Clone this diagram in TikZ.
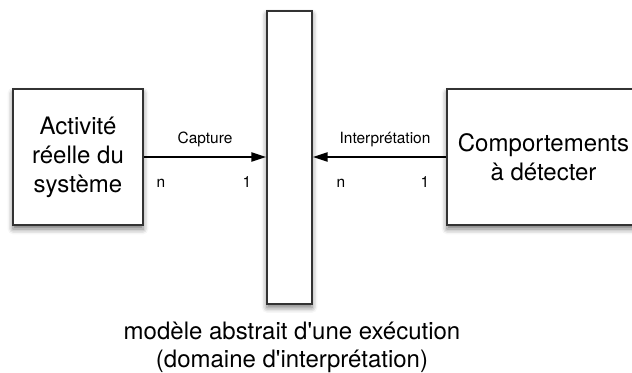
\documentclass[tikz,border=0pt]{standalone}
\usepackage{fontspec}
\setmainfont{TeX Gyre Heros}
\usetikzlibrary{arrows.meta,shadows.blur}
\begin{document}
\begin{tikzpicture}[x=0.75pt,y=-0.75pt,
  boite/.style={draw=black!80,line width=1.5pt,fill=white,align=center,inner sep=0pt,
    font=\fontsize{18}{21.75}\selectfont,
    blur shadow={shadow xshift=0pt,shadow yshift=-3pt,shadow blur radius=4pt,shadow opacity=55}},
  fleche/.style={-{Triangle[length=11pt,width=7pt]},line width=1.1pt},
  petit/.style={font=\fontsize{11.6}{14}\selectfont,anchor=base,inner sep=0pt}]
\useasboundingbox (0,0) rectangle (632,372);
\node[boite,minimum width=97.5pt,minimum height=102pt] (activite) at (78,157) {Activité\\réelle du\\système};
\node[boite,minimum width=33.75pt,minimum height=219.75pt] (modele) at (289.5,157) {};
\node[boite,minimum width=144.75pt,minimum height=102pt] (comport) at (543.5,157) {Comportements\\à détecter};
\draw[fleche] (activite.east) -- (modele.west);
\draw[fleche] (comport.west) -- (modele.east);
\node[petit] (capture) at (205,143) {Capture};
\node[petit] (interp) at (385,143) {Interprétation};
\node[petit] (n1) at (161,187) {n};
\node[petit] (un1) at (247,187) {1};
\node[petit] (n2) at (341,187) {n};
\node[petit] (un2) at (425,187) {1};
\node[anchor=north,inner sep=0pt,align=center,font=\fontsize{18}{20.5}\selectfont] (legende) at (292,322)
  {modèle abstrait d\textquotesingle une exécution\\(domaine d\textquotesingle interprétation)};
\end{tikzpicture}
\end{document}
